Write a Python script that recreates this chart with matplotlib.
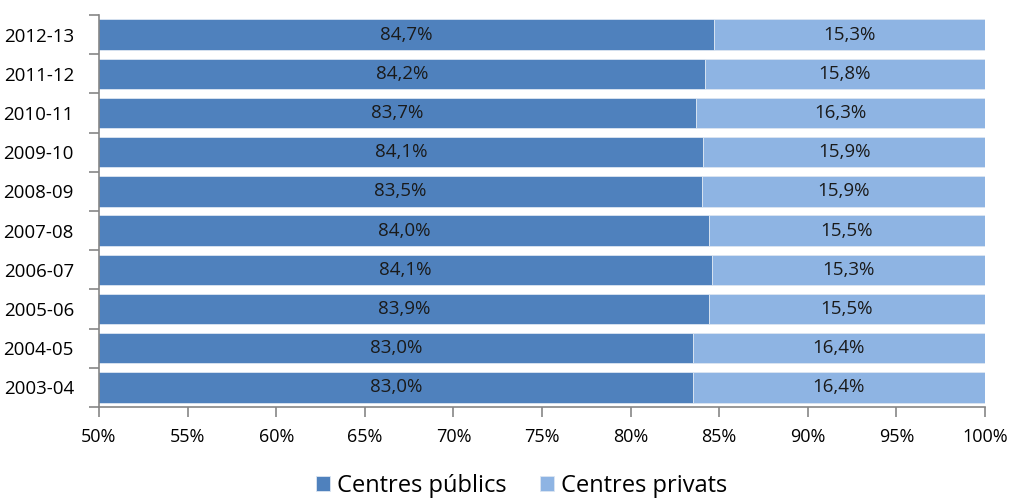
import matplotlib.pyplot as plt
import numpy as np

plt.rcParams['font.family'] = ['Open Sans', 'DejaVu Sans']

courses = ['2003-04', '2004-05', '2005-06', '2006-07', '2007-08',
           '2008-09', '2009-10', '2010-11', '2011-12', '2012-13']
publics = [83.0, 83.0, 83.9, 84.1, 84.0, 83.5, 84.1, 83.7, 84.2, 84.7]
privats = [16.4, 16.4, 15.5, 15.3, 15.5, 15.9, 15.9, 16.3, 15.8, 15.3]

pub = np.array(publics)
priv = np.array(privats)
total = pub + priv
pub_share = pub / total * 100
priv_share = priv / total * 100

dark = '#4F81BD'
light = '#8EB4E3'
axis_col = '#868686'

fig = plt.figure(figsize=(10.09, 5.0), dpi=100)
ax = fig.add_axes([99 / 1009, 1 - 407 / 500, 886 / 1009, 392 / 500])

y = np.arange(len(courses))
h = 0.78
b1 = ax.barh(y, pub_share, height=h, color=dark, edgecolor='#DCE6F2', linewidth=0.6)
b2 = ax.barh(y, priv_share, left=pub_share, height=h, color=light, edgecolor='#DCE6F2', linewidth=0.6)

for i in range(len(courses)):
    ax.text((50 + pub_share[i]) / 2, y[i], f'{publics[i]:.1f}%'.replace('.', ','),
            ha='center', va='center', fontsize=13.5, color='#1a1a1a')
    ax.text(pub_share[i] + priv_share[i] / 2, y[i], f'{privats[i]:.1f}%'.replace('.', ','),
            ha='center', va='center', fontsize=13.5, color='#1a1a1a')

ax.set_xlim(50, 100)
ax.set_ylim(-0.5, len(courses) - 0.5)
ax.set_xticks(np.arange(50, 101, 5))
ax.set_xticklabels([f'{v}%' for v in range(50, 101, 5)], fontsize=13)
ax.set_yticks(y)
ax.set_yticklabels(courses, fontsize=13.5)
ax.set_yticks(np.arange(-0.5, len(courses), 1), minor=True)
ax.tick_params(axis='y', which='major', length=0, pad=18)
ax.tick_params(axis='y', which='minor', length=7, color=axis_col, width=1.2)
ax.tick_params(axis='x', length=7, color=axis_col, width=1.2, pad=8)

for s in ['top', 'right']:
    ax.spines[s].set_visible(False)
for s in ['left', 'bottom']:
    ax.spines[s].set_color(axis_col)
    ax.spines[s].set_linewidth(1.2)

fig.legend([b1, b2], ['Centres públics', 'Centres privats'], loc='center',
           bbox_to_anchor=(0.517, 1 - 486 / 500), ncol=2, frameon=False,
           fontsize=17, handlelength=0.6, handleheight=0.6, handletextpad=0.3,
           columnspacing=1.4)

fig.savefig('out.png', dpi=100)
